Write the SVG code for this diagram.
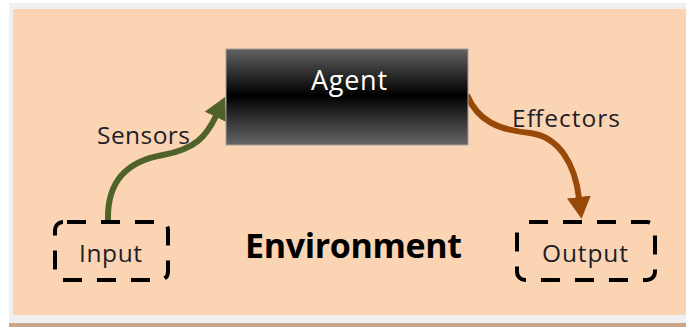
<svg xmlns="http://www.w3.org/2000/svg" width="686" height="327" viewBox="0 0 686 327">
  <style>
    .lbl { font-family: "Open Sans", "Noto Sans", sans-serif; font-size: 24.5px; fill: #1e1e28; }
    .dash { fill: none; stroke: #000; stroke-width: 4; stroke-dasharray: 19 15; }
  </style>
  <defs>
    <linearGradient id="agentGrad" x1="0" y1="0" x2="0" y2="1">
      <stop offset="0" stop-color="#626262"/>
      <stop offset="0.48" stop-color="#000"/>
      <stop offset="1" stop-color="#666"/>
    </linearGradient>
    <marker id="headGreen" viewBox="0 0 22 24" refX="1" refY="12" markerWidth="22" markerHeight="24" markerUnits="userSpaceOnUse" orient="auto">
      <path d="M0,0 L22,12 L0,24 z" fill="#4f6228"/>
    </marker>
    <marker id="headBrown" viewBox="0 0 22 24" refX="1" refY="12" markerWidth="22" markerHeight="24" markerUnits="userSpaceOnUse" orient="auto">
      <path d="M0,0 L22,12 L0,24 z" fill="#984807"/>
    </marker>
  </defs>

  <rect x="0" y="0" width="686" height="327" fill="#fff"/>
  <rect x="9" y="3" width="677" height="320" fill="#f0f0f0"/>
  <rect x="13" y="9" width="673" height="306" fill="#fbd4b4"/>
  <rect x="9" y="323" width="677" height="4" fill="#c9a58a"/>

  <g id="connectors">
    <path d="M108,220 C107,180 128,161 163,155 C195,149 206,137 216,116" fill="none" stroke="#4f6228" stroke-width="6" marker-end="url(#headGreen)"/>
    <path d="M467,95 C478,122 500,130 530,133 C560,137 575,165 579,198" fill="none" stroke="#984807" stroke-width="6" marker-end="url(#headBrown)"/>
    <text class="lbl" x="97" y="144" textLength="93">Sensors</text>
    <text class="lbl" x="512" y="127" textLength="108">Effectors</text>
  </g>

  <g id="agent">
    <rect x="226" y="49" width="242" height="96" fill="url(#agentGrad)" stroke="#a0a0a0" stroke-width="1"/>
    <text class="lbl" x="349" y="90" text-anchor="middle" textLength="76" style="fill:#fff;font-size:27px">Agent</text>
  </g>

  <g id="input">
    <rect class="dash" x="55" y="222" width="113" height="58" rx="8" stroke-dashoffset="-4"/>
    <text class="lbl" x="79" y="262" textLength="63">Input</text>
  </g>

  <g id="output">
    <rect class="dash" x="517" y="222" width="138" height="58" rx="8" stroke-dashoffset="-4"/>
    <text class="lbl" x="542" y="262" textLength="86">Output</text>
  </g>

  <g id="environment">
    <text x="245" y="258" textLength="217" style="font-family:'Open Sans','Noto Sans',sans-serif;font-size:34px;font-weight:bold;fill:#000">Environment</text>
  </g>
</svg>
